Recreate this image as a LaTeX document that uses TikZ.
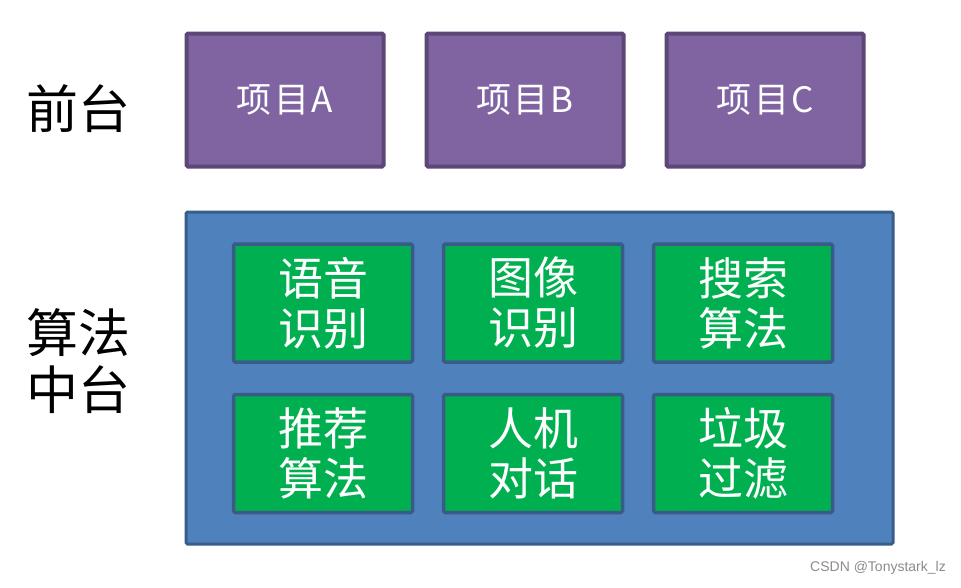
\documentclass[tikz,border=0pt]{standalone}
\usepackage{fontspec}
\setmainfont{Carlito}
\newfontfamily\cjk{Noto Sans CJK SC}
\newfontfamily\wm{Liberation Sans}
\definecolor{pfill}{HTML}{8064A2}
\definecolor{pline}{HTML}{5C4776}
\definecolor{bfill}{HTML}{4F81BD}
\definecolor{bline}{HTML}{385D8A}
\definecolor{gfill}{HTML}{00B050}
\definecolor{gline}{HTML}{3A5A88}
\begin{document}
\begin{tikzpicture}[x=1pt,y=-1pt,
  proj/.style={draw=pline,line width=4pt,fill=pfill,rounded corners=1.5pt,minimum width=197pt,minimum height=133pt,inner sep=0pt,text=white,font=\cjk\fontsize{35}{40}\selectfont},
  algo/.style={draw=gline,line width=3.5pt,fill=gfill,rounded corners=1.5pt,minimum width=179pt,minimum height=118pt,inner sep=0pt,text=white,align=center,font=\cjk\fontsize{45}{50}\selectfont},
  lab/.style={align=center,font=\cjk\fontsize{52}{57}\selectfont,inner sep=0pt}]
\useasboundingbox (0,0) rectangle (961,587);
\fill[white] (0,0) rectangle (961,587);
\node[lab] (qt) at (79,109) {前台};
\node[lab] (sf) at (79,361) {算法\\中台};
\node[proj] (pa) at (285,100) {项\hspace{3pt}目\hspace{2pt}A};
\node[proj] (pb) at (525,100) {项\hspace{3pt}目\hspace{2pt}B};
\node[proj] (pc) at (765,100) {项\hspace{3pt}目\hspace{2pt}C};
\node[draw=bline,line width=3pt,fill=bfill,rounded corners=1.5pt,minimum width=707pt,minimum height=332pt,inner sep=0pt] (mid) at (539.5,378) {};
\node[algo] (g1) at (323,303) {语音\\识别};
\node[algo] (g2) at (533,303) {图像\\识别};
\node[algo] (g3) at (743,303) {搜索\\算法};
\node[algo] (g4) at (323,453.5) {推荐\\算法};
\node[algo] (g5) at (533,453.5) {人机\\对话};
\node[algo] (g6) at (743,453.5) {垃圾\\过滤};
\node[text=black!45,font=\wm\fontsize{14}{16}\selectfont,anchor=east,inner sep=0pt] (w) at (946,568) {CSDN @Tonystark\_lz};
\end{tikzpicture}
\end{document}
